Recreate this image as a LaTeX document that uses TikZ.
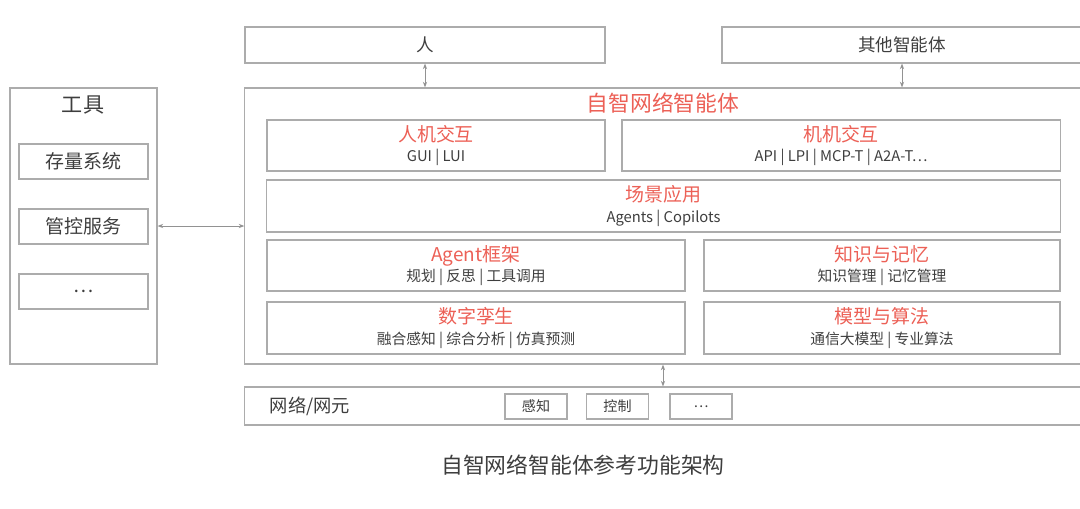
\documentclass[tikz,border=0pt]{standalone}
\usepackage{fontspec}
\setmainfont{Noto Sans CJK SC}
\usepackage{tikz}
\usetikzlibrary{arrows.meta,positioning,calc}
\usepackage{xcolor}
\definecolor{agentred}{RGB}{236,96,86}
\definecolor{framegrey}{RGB}{172,172,172}
\definecolor{textgrey}{RGB}{62,62,62}
\newcommand{\layertitle}[1]{{\color{agentred}\fontsize{13.5}{16}\selectfont #1}}

\begin{document}
\begin{tikzpicture}[
    x=0.025cm, y=-0.025cm,
    box/.style={rectangle, draw=framegrey, line width=0.8pt, text=textgrey, inner sep=0pt},
    layer/.style={box, minimum height=1.275cm, align=center,
        font=\fontsize{10.5}{14.5}\selectfont},
    tool/.style={box, minimum width=3.225cm, minimum height=0.875cm,
        font=\fontsize{13.5}{16}\selectfont},
    elem/.style={box, minimum width=1.55cm, minimum height=0.625cm,
        font=\fontsize{10}{12}\selectfont},
    link/.style={<->, draw=framegrey!85!black, line width=0.6pt},
    >={Stealth[length=4pt, width=3pt]}
]
\useasboundingbox (0,0) rectangle (1080,508);

% top partners
\node[box, minimum width=9cm, minimum height=0.9cm, font=\fontsize{12.5}{15}\selectfont] (human) at (425,45) {人};
\node[box, minimum width=9cm, minimum height=0.9cm, font=\fontsize{12.5}{15}\selectfont] (peers) at (902,45) {其他智能体};

% agent
\node[box, minimum width=21cm, minimum height=6.9cm] (core) at (665,226) {};
\node[font=\fontsize{15.5}{18}\selectfont, text=agentred] (coretitle) at (663,103) {自智网络智能体};
\node[layer, minimum width=8.45cm] (hmi) at (436,145.5) {\layertitle{人机交互}\\GUI | LUI};
\node[layer, minimum width=10.95cm] (mmi) at (841,145.5) {\layertitle{机机交互}\\API | LPI | MCP-T | A2A-T⋯};
\node[layer, minimum width=19.825cm, minimum height=1.3cm] (scene) at (663.5,206) {\layertitle{场景应用}\\Agents | Copilots};
\node[layer, minimum width=10.45cm] (agentfw) at (476,265.5) {\layertitle{Agent框架}\\规划 | 反思 | 工具调用};
\node[layer, minimum width=8.9cm] (memory) at (882,265.5) {\layertitle{知识与记忆}\\知识管理 | 记忆管理};
\node[layer, minimum width=10.45cm, minimum height=1.3cm] (twin) at (476,328) {\layertitle{数字孪生}\\融合感知 | 综合分析 | 仿真预测};
\node[layer, minimum width=8.9cm, minimum height=1.3cm] (algo) at (882,328) {\layertitle{模型与算法}\\通信大模型 | 专业算法};

% tools
\node[box, minimum width=3.675cm, minimum height=6.9cm] (tools) at (83.5,226) {};
\node[font=\fontsize{15}{18}\selectfont, text=textgrey] (toolstitle) at (83,105) {工具};
\node[tool] (inventory) at (83.5,161.5) {存量系统};
\node[tool] (control) at (83.5,226.5) {管控服务};
\node[tool] (moretools) at (83.5,291.5) {⋯};

% network
\node[box, minimum width=21cm, minimum height=0.95cm] (net) at (665,406) {};
\node[anchor=west, font=\fontsize{13}{15}\selectfont, text=textgrey] (netlabel) at (265,406) {网络/网元};
\node[elem] (sense) at (536,406.5) {感知};
\node[elem] (actuate) at (617.5,406.5) {控制};
\node[elem] (moreelem) at (701,406.5) {⋯};

\draw[link] (human.south) -- (human.south |- core.north);
\draw[link] (peers.south) -- (peers.south |- core.north);
\draw[link] (tools.east) -- (core.west);
\draw[link] (core.south -| coretitle) -- (net.north -| coretitle);

\node[font=\fontsize{15.5}{18}\selectfont, text=textgrey] (caption) at (583,465) {自智网络智能体参考功能架构};
\end{tikzpicture}
\end{document}
